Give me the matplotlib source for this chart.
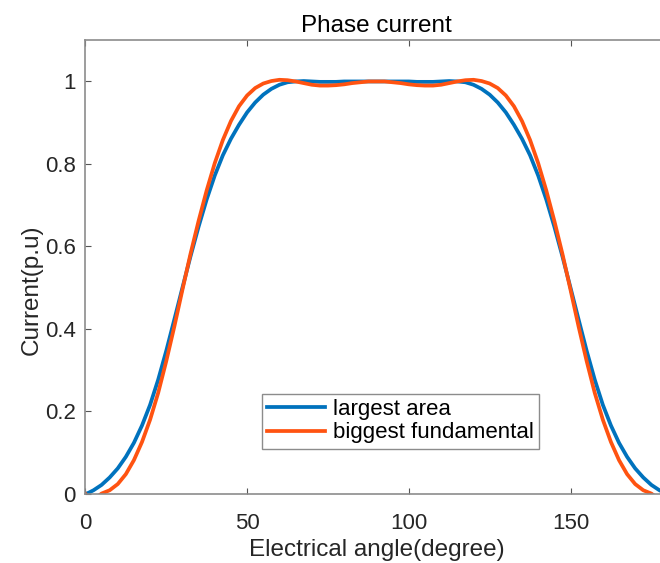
import matplotlib
matplotlib.use('Agg')
import matplotlib.pyplot as plt
import numpy as np

# half period data (0..90 deg), the curves are symmetric about 90 deg
angle_half = [0, 1, 2.5, 5, 7.5, 10, 12.5, 15, 17.5, 20, 22.5, 25, 27.5, 30,
              32.5, 35, 37.5, 40, 42.5, 45, 47.5, 50, 52.5, 55, 57.5, 60,
              62.5, 65, 67.5, 70, 72.5, 75, 77.5, 80, 82.5, 85, 87.5, 90]
largest_area_half = [0, 0.003, 0.009, 0.022, 0.040, 0.062, 0.090, 0.124, 0.166,
                     0.216, 0.277, 0.347, 0.423, 0.500, 0.576, 0.648, 0.714,
                     0.772, 0.821, 0.861, 0.895, 0.925, 0.949, 0.968, 0.982,
                     0.992, 0.998, 1.000, 1.001, 1.000, 0.999, 0.999, 0.999,
                     1.000, 1.000, 1.000, 1.000, 1.000]
fundamental_half = [0, -0.012, -0.014, 0.001, 0.009, 0.024, 0.048, 0.082, 0.126,
                    0.180, 0.245, 0.322, 0.406, 0.495, 0.582, 0.662, 0.736,
                    0.802, 0.858, 0.904, 0.940, 0.966, 0.984, 0.995, 1.001,
                    1.004, 1.003, 1.000, 0.996, 0.992, 0.990, 0.990, 0.991,
                    0.993, 0.996, 0.998, 1.000, 1.000]

# mirror to get the full 0..180 deg curve
a = np.array(angle_half)
angle = np.concatenate([a, 180 - a[::-1][1:]])
largest_area = np.concatenate([largest_area_half, largest_area_half[::-1][1:]])
fundamental = np.concatenate([fundamental_half, fundamental_half[::-1][1:]])

plt.rcParams['font.family'] = ['Liberation Sans', 'DejaVu Sans']

fig = plt.figure(figsize=(6.6, 5.63), dpi=100)
ax = fig.add_axes([0.1294, 0.1226, 0.882, 0.806])

ax.plot(angle, largest_area, color='#0072BD', lw=2.7, label='largest area')
ax.plot(angle, fundamental, color='#FF5311', lw=2.7, label='biggest fundamental')

ax.set_xlim(0, 180)
ax.set_ylim(0, 1.1)
ax.set_xticks([0, 50, 100, 150])
ax.set_yticks([0, 0.2, 0.4, 0.6, 0.8, 1])
ax.set_yticklabels(['0', '0.2', '0.4', '0.6', '0.8', '1'])

for s in ax.spines.values():
    s.set_color('#8c8c8c')
    s.set_linewidth(1.2)
ax.tick_params(direction='in', length=4, width=0.8, color='#555555',
               labelsize=16, labelcolor='#262626', top=True, right=True)
ax.tick_params(axis='y', pad=7)
ax.tick_params(axis='x', pad=14)

ax.set_title('Phase current', fontsize=17.5, color='black', pad=6)
ax.set_xlabel('Electrical angle(degree)', fontsize=17.5, color='#262626', labelpad=3)
ax.set_ylabel('Current(p.u)', fontsize=17.5, color='#262626', labelpad=4)
ax.yaxis.set_label_coords(-0.073, 0.45)

leg = ax.legend(loc='lower left', bbox_to_anchor=(0.303, 0.099), borderaxespad=0,
                fontsize=16, fancybox=False, framealpha=1, edgecolor='#8c8c8c',
                handlelength=2.6, handletextpad=0.35, labelspacing=0.1,
                borderpad=0.25)
leg.get_frame().set_linewidth(1.0)

fig.savefig('out.png', dpi=100)
